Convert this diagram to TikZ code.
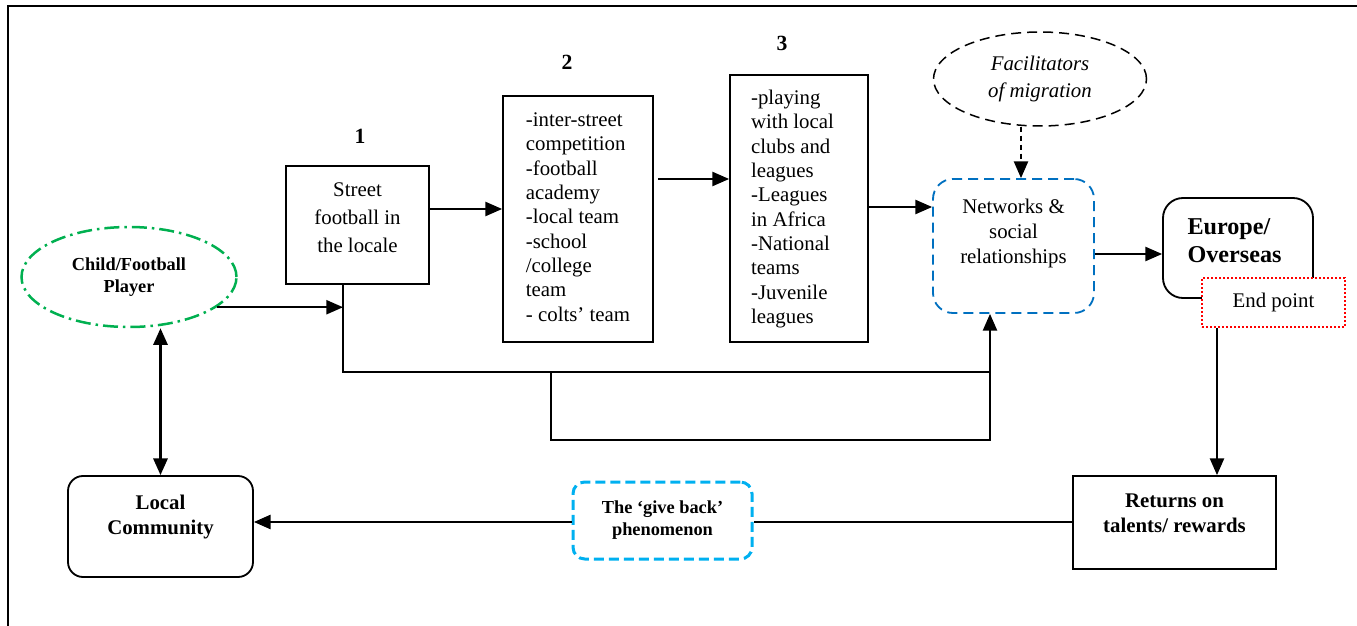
\documentclass[tikz,border=0pt]{standalone}
\usepackage{fontspec}
\setmainfont{Liberation Serif}
\usetikzlibrary{arrows.meta,shapes.geometric,positioning,calc}
\definecolor{grn}{HTML}{00B050}
\definecolor{blu}{HTML}{0070C0}
\definecolor{cyn}{HTML}{00B0F0}

\begin{document}
\begin{tikzpicture}[x=0.6pt,y=-0.6pt,
		box/.style={draw,line width=1.1pt,inner sep=0pt},
		txt/.style={inner sep=0pt,align=center,font=\fontsize{12.5}{16.8}\selectfont},
		num/.style={inner sep=0pt,font=\bfseries\fontsize{13}{15}\selectfont},
		ln/.style={line width=1pt},
		arr/.style={line width=1pt,-{Triangle[length=10pt,width=8.5pt]}}]
		\useasboundingbox (0,0) rectangle (1357,626);
		\draw[line width=1.2pt] (1357,6) -- (8,6) -- (8,626);
		%
		\node[box,ellipse,draw=grn,line width=1.5pt,dash pattern=on 9pt off 3pt on 1.5pt off 3pt,minimum width=129pt,minimum height=60pt,align=center,font=\bfseries\fontsize{11}{13.2}\selectfont] (c) at (129,277) {Child/Football\\Player};
		\node[box,minimum width=85.8pt,minimum height=70.8pt] (s1) at (357.5,225) {};
		\node[txt] (s1t) at (357.5,218) {Street\\football in\\the locale};
		\node[box,minimum width=90pt,minimum height=147.6pt] (s2) at (578,219) {};
		\node[txt,align=left,font=\fontsize{12.5}{14.6}\selectfont] (s2t) at (578,217) {-inter-street\\competition\\-football\\academy\\-local team\\-school\\/college\\team\\- colts’ team};
		\node[box,minimum width=82.8pt,minimum height=160.2pt] (s3) at (799,208.5) {};
		\node[txt,align=left,font=\fontsize{12.5}{14.6}\selectfont] (s3t) at (792.5,209) {-playing\\with local\\clubs and\\leagues\\-Leagues\\in Africa\\-National\\teams\\-Juvenile\\leagues};
		\node[num,above=12.6pt of s1,xshift=1.5pt] (n1) {1};
		\node[num] (n2) at (567,62) {2};
		\node[num] (n3) at (782,43) {3};
		%
		\node[box,ellipse,line width=0.9pt,dash pattern=on 6pt off 3.6pt,minimum width=127.8pt,minimum height=56.4pt,align=center,font=\itshape\fontsize{12.5}{16.2}\selectfont] (fac) at (1040,79) {Facilitators\\of migration};
		\node[box,draw=blu,dash pattern=on 6pt off 3.6pt,rounded corners=12pt,minimum width=96.6pt,minimum height=80.4pt] (net) at (1013.5,246) {};
		\node[txt,font=\fontsize{12.5}{15}\selectfont] (nett) at (1013.5,233) {Networks \&\\social\\relationships};
		\node[box,rounded corners=12pt,minimum width=90pt,minimum height=60pt] (eu) at (1238,248) {};
		\node[txt,align=left,font=\bfseries\fontsize{14.5}{16.8}\selectfont] (eut) at (1234.5,241) {Europe/\\Overseas};
		\node[box,draw=red,fill=white,line width=1.5pt,dash pattern=on 1.2pt off 1.2pt,minimum width=85.8pt,minimum height=29.4pt,font=\fontsize{12.5}{15}\selectfont] (end) at (1273.5,302.5) {End point};
		%
		\node[box,minimum width=121.8pt,minimum height=55.8pt] (ret) at (1174.5,522.5) {};
		\node[txt,font=\bfseries\fontsize{12.5}{15}\selectfont] (rett) at (1174.5,513) {Returns on\\talents/ rewards};
		\node[box,draw=cyn,line width=1.8pt,dash pattern=on 6pt off 3pt,rounded corners=7pt,minimum width=107.4pt,minimum height=46.2pt,align=center,font=\bfseries\fontsize{11}{13.2}\selectfont] (give) at (662.5,520.5) {The ‘give back’\\phenomenon};
		\node[box,rounded corners=9pt,minimum width=111pt,minimum height=60.6pt] (loc) at (160.5,526.5) {};
		\node[txt,font=\bfseries\fontsize{12.5}{15}\selectfont] (loct) at (160.5,517) {Local\\Community};
		%
		\coordinate (j1) at (343,372);
		\coordinate (j2) at (551,372);
		\coordinate (j3) at (990,372);
		\coordinate (j4) at (551,440);
		\coordinate (j5) at (990,440);
		\coordinate (a2) at (658,179);
		\coordinate (h1) at (0,209);
		\coordinate (h3) at (0,207);
		\coordinate (h4) at (0,254);
		\coordinate (h5) at (0,522);
		\coordinate (v1) at (1021,0);
		\coordinate (v2) at (1217,0);
		%
		\draw[arr] (c.-19) -- (c.-19 -| j1);
		\draw[ln] (s1.south -| j1) -- (j1) -- (j3);
		\draw[arr] (j2) -- (j4) -- (j5) -- (j5 |- net.south);
		\draw[arr] (s1.east |- h1) -- (s2.west |- h1);
		\draw[arr] (a2) -- (s3.west |- a2);
		\draw[arr] (s3.east |- h3) -- (net.west |- h3);
		\draw[arr,dash pattern=on 3pt off 2.4pt] (fac.south -| v1) -- (net.north -| v1);
		\draw[arr] (net.east |- h4) -- (eu.west |- h4);
		\draw[arr] (end.south -| v2) -- (ret.north -| v2);
		\draw[ln] (ret.west |- h5) -- (give.east |- h5);
		\draw[arr,line width=1.2pt] (give.west |- h5) -- (loc.east |- h5);
		\draw[ln,line width=1.5pt,{Triangle[length=10pt,width=8.5pt]}-{Triangle[length=10pt,width=8.5pt]}] (c.south -| loc.north) -- (loc.north);
\end{tikzpicture}
\end{document}
